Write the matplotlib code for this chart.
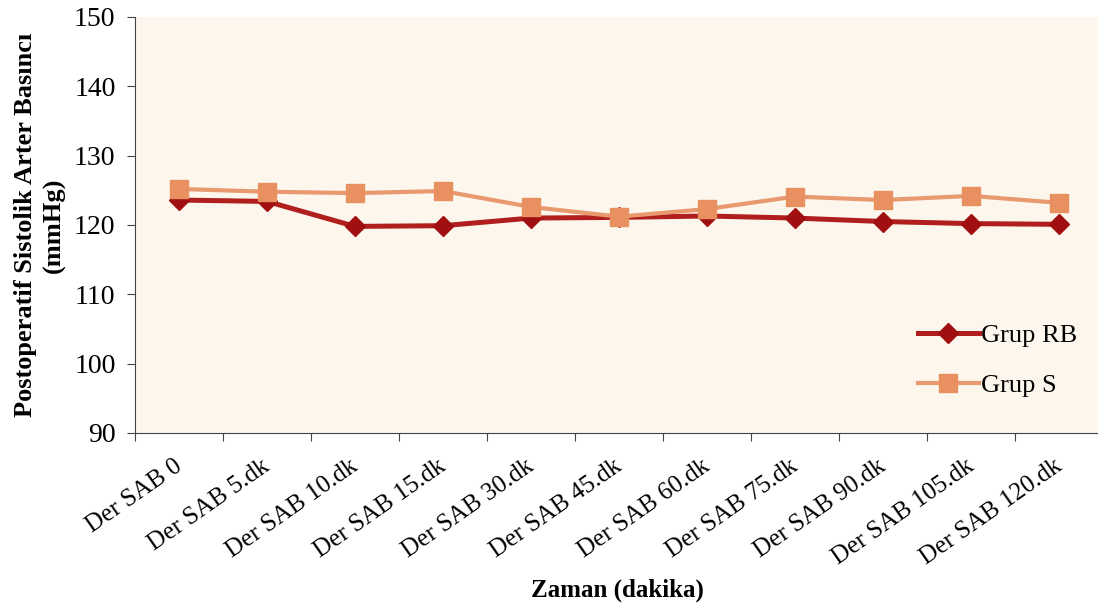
import matplotlib
matplotlib.use("Agg")
import matplotlib.pyplot as plt
import numpy as np

categories = ["Der SAB 0", "Der SAB 5.dk", "Der SAB 10.dk", "Der SAB 15.dk",
              "Der SAB 30.dk", "Der SAB 45.dk", "Der SAB 60.dk", "Der SAB 75.dk",
              "Der SAB 90.dk", "Der SAB 105.dk", "Der SAB 120.dk"]
grup_rb = [123.6, 123.4, 119.8, 119.9, 121.0, 121.1, 121.3, 121.0, 120.5, 120.2, 120.1]
grup_s = [125.2, 124.8, 124.6, 124.9, 122.6, 121.2, 122.3, 124.1, 123.6, 124.2, 123.2]
y_ticks = [90, 100, 110, 120, 130, 140, 150]

plt.rcParams["font.family"] = ["Liberation Serif", "DejaVu Serif"]

W, H = 1098, 609
fig = plt.figure(figsize=(W / 100, H / 100), dpi=100)
fig.patch.set_facecolor("white")
ax = fig.add_axes([135 / W, 1 - 433 / H, 968 / W, 416 / H])
ax.set_facecolor("#fdf6ec")

x = np.arange(len(categories))
ax.plot(x, grup_rb, color="#b01e1e", lw=3.6, marker="D", markersize=10,
        markerfacecolor="#a01010", markeredgecolor="#a01010", label="Grup RB", zorder=3)
ax.plot(x, grup_s, color="#e8996f", lw=3.0, marker="s", markersize=12.5,
        markerfacecolor="#e8905f", markeredgecolor="#e8905f", label="Grup S", zorder=4)

ax.set_xlim(-0.5, len(categories) - 0.5)
ax.set_ylim(90, 150)
ax.set_yticks(y_ticks)
ax.set_yticklabels([str(v) for v in y_ticks], fontsize=20)
ax.tick_params(axis="y", direction="out", length=6, width=0.8, pad=8, color="#444444")

# category boundaries carry the tick marks, labels sit at the centres
ax.set_xticks(np.arange(len(categories) + 1) - 0.5)
ax.set_xticklabels([])
ax.tick_params(axis="x", direction="out", length=6, width=0.8, color="#444444")
for i, lab in enumerate(categories):
    ax.annotate(lab, xy=(i, 90), xycoords="data", xytext=(-4, -16),
                textcoords="offset points", rotation=35, ha="right", va="top",
                rotation_mode="anchor", fontsize=18, annotation_clip=False)

for s in ["top", "right"]:
    ax.spines[s].set_visible(False)
ax.spines["left"].set_color("#444444")
ax.spines["bottom"].set_color("#444444")
ax.spines["left"].set_linewidth(0.8)
ax.spines["bottom"].set_linewidth(0.8)

fig.text(40 / W, 1 - 225 / H, "Postoperatif Sistolik Arter Basıncı\n(mmHg)",
         rotation=90, ha="center", va="center", fontsize=19,
         fontweight="bold", linespacing=1.35)
fig.text(617 / W, 1 - 590 / H, "Zaman (dakika)", ha="center", va="center",
         fontsize=18, fontweight="bold")

leg = ax.legend(loc="upper left", bbox_to_anchor=(918 / W, 1 - 324 / H),
                bbox_transform=fig.transFigure, frameon=False, fontsize=19,
                handlelength=2.3, handletextpad=0.1, labelspacing=1.0,
                borderpad=0, borderaxespad=0)

fig.savefig("out.png", dpi=100, facecolor="white")
